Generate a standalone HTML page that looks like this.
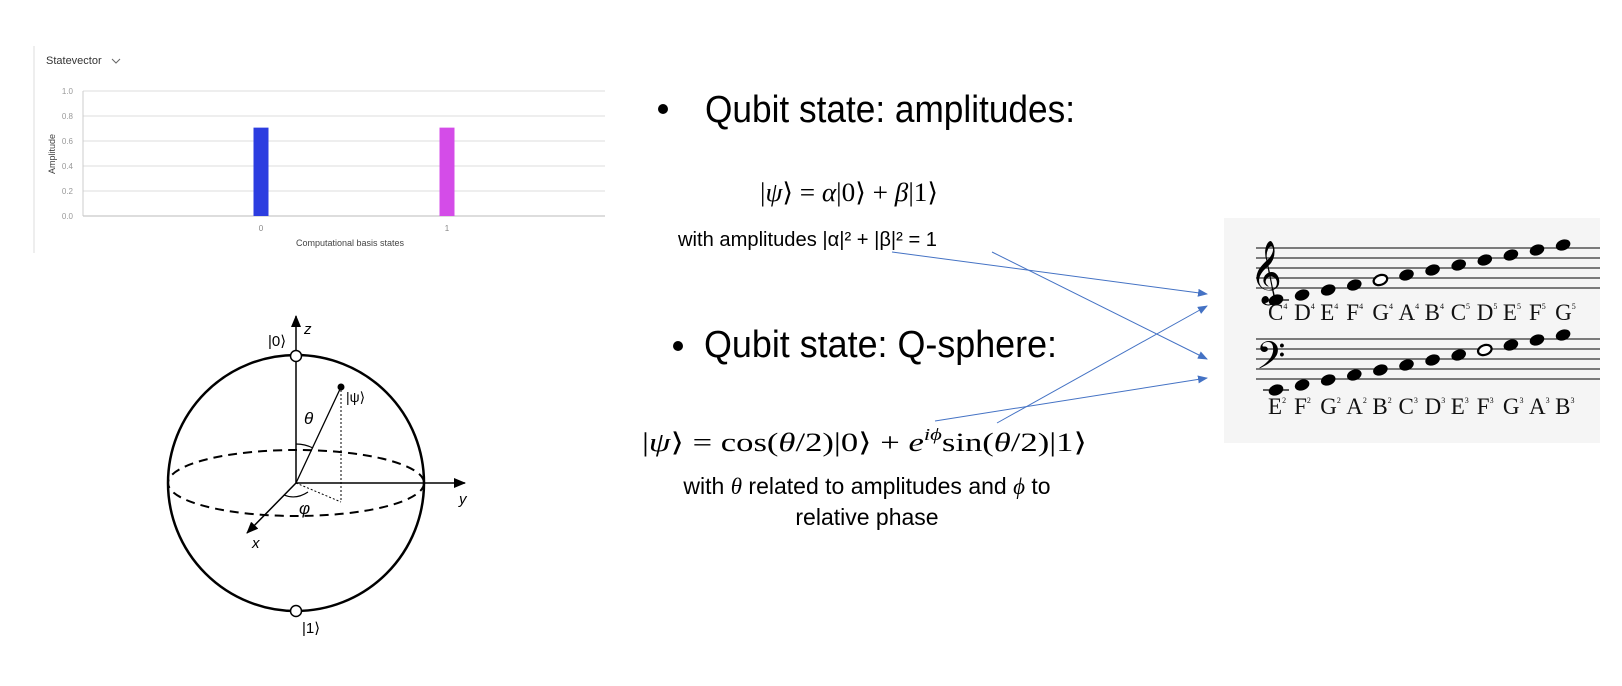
<!DOCTYPE html>
<html><head><meta charset="utf-8"><style>
body{margin:0;background:#fff;}
svg{display:block;}
.sans{font-family:"Liberation Sans",sans-serif;}
.serif{font-family:"Liberation Serif","DejaVu Serif",serif;}
</style></head><body>
<svg id="root" width="1622" height="686" viewBox="0 0 1622 686" xmlns="http://www.w3.org/2000/svg">
<defs>
<marker id="ab" markerWidth="10" markerHeight="8" refX="9" refY="4" orient="auto" markerUnits="userSpaceOnUse"><path d="M0,0 L10,4 L0,8 z" fill="#4472c4"/></marker>
<marker id="ak" markerWidth="12" markerHeight="10" refX="11" refY="5" orient="auto" markerUnits="userSpaceOnUse"><path d="M0,0 L12,5 L0,10 z" fill="#000"/></marker>
</defs>

<g id="chart">
  <line x1="34" y1="46" x2="34" y2="253" stroke="#ddd"/>
  <text x="46" y="64" font-size="11" class="sans" fill="#333">Statevector</text>
  <path d="M112,59 l4,4 l4,-4" fill="none" stroke="#666" stroke-width="1"/>
  <g id="grid"></g>
  <g id="bars"></g>
  <text transform="translate(55,154) rotate(-90)" text-anchor="middle" font-size="9" class="sans" fill="#444">Amplitude</text>
  <text x="350" y="246" text-anchor="middle" font-size="9" class="sans" fill="#444">Computational basis states</text>
</g>

<g fill="none" stroke="#000">
  <circle cx="296" cy="483" r="128" stroke-width="2.5"/>
  <ellipse cx="296" cy="483" rx="128" ry="33" stroke-width="2" stroke-dasharray="9,6"/>
  <line x1="296" y1="483" x2="296" y2="316" stroke-width="1.5" marker-end="url(#ak)"/>
  <line x1="296" y1="483" x2="465" y2="483" stroke-width="1.5" marker-end="url(#ak)"/>
  <line x1="296" y1="483" x2="247" y2="533" stroke-width="1.5" marker-end="url(#ak)"/>
  <line x1="296" y1="483" x2="341" y2="387" stroke-width="1.3"/>
  <circle cx="341" cy="387" r="3" fill="#000"/>
  <line x1="341" y1="390" x2="341" y2="502" stroke-width="1" stroke-dasharray="2,2"/>
  <line x1="296" y1="483" x2="341" y2="502" stroke-width="1" stroke-dasharray="2,2"/>
  <path d="M296,444 A39,39 0 0 1 313,448" stroke-width="1.2"/>
  <path d="M284,495 Q296,500 308,492" stroke-width="1.2"/>
  <circle cx="296" cy="356" r="5.5" fill="#fff" stroke-width="1.5"/>
  <circle cx="296" cy="611" r="5.5" fill="#fff" stroke-width="1.5"/>
</g>
<g class="sans" font-size="15" fill="#000">
  <text x="268" y="346">|0⟩</text>
  <text x="304" y="334" font-style="italic">z</text>
  <text x="346" y="402" font-size="14">|ψ⟩</text>
  <text x="304" y="424" font-style="italic" font-size="17">θ</text>
  <text x="299" y="514" font-style="italic" font-size="17">φ</text>
  <text x="459" y="504" font-style="italic">y</text>
  <text x="252" y="548" font-style="italic">x</text>
  <text x="302" y="633">|1⟩</text>
</g>

<g fill="#000">
  <circle cx="663" cy="109" r="5"/>
  <text x="705" y="122" font-size="38" class="sans" textLength="370" lengthAdjust="spacingAndGlyphs">Qubit state: amplitudes:</text>
  <text x="760" y="201" font-size="26" class="serif" textLength="178" lengthAdjust="spacingAndGlyphs">|<tspan font-style="italic">ψ</tspan>⟩ = <tspan font-style="italic">α</tspan>|0⟩ + <tspan font-style="italic">β</tspan>|1⟩</text>
  <text x="678" y="246" font-size="20" class="sans" textLength="259" lengthAdjust="spacingAndGlyphs">with amplitudes |α|² + |β|² = 1</text>
  <circle cx="678" cy="346" r="5"/>
  <text x="704" y="357" font-size="38" class="sans" textLength="353" lengthAdjust="spacingAndGlyphs">Qubit state: Q-sphere:</text>
  <text x="642" y="451" font-size="26" class="serif" textLength="445" lengthAdjust="spacingAndGlyphs">|<tspan font-style="italic">ψ</tspan>⟩ = cos(<tspan font-style="italic">θ</tspan>/2)|0⟩ + <tspan font-style="italic">e</tspan><tspan font-size="17" dy="-11" font-style="italic">iϕ</tspan><tspan dy="11">sin(</tspan><tspan font-style="italic">θ</tspan>/2)|1⟩</text>
  <text x="867" y="494" font-size="23" class="sans" text-anchor="middle">with <tspan class="serif" font-style="italic">θ</tspan> related to amplitudes and <tspan class="serif" font-style="italic">ϕ</tspan> to</text>
  <text x="867" y="525" font-size="23" class="sans" text-anchor="middle">relative phase</text>
</g>

<rect x="1224" y="218" width="376" height="225" fill="#f5f5f5"/>
<g id="staff"></g>

<g stroke="#4472c4" stroke-width="1" fill="none">
  <line x1="892" y1="252" x2="1207" y2="294" marker-end="url(#ab)"/>
  <line x1="992" y1="252" x2="1207" y2="359" marker-end="url(#ab)"/>
  <line x1="997" y1="423" x2="1207" y2="306" marker-end="url(#ab)"/>
  <line x1="935" y1="421" x2="1207" y2="378" marker-end="url(#ab)"/>
</g>

<script>
const states = ["0", "1"];
const amplitudes = [0.707, 0.707];
const yTicks = [0, 0.2, 0.4, 0.6, 0.8, 1.0];
const barColors = ["#2c3de0", "#d44ce8"];
const trebleNotes = ["C4","D4","E4","F4","G4","A4","B4","C5","D5","E5","F5","G5"];
const bassNotes = ["E2","F2","G2","A2","B2","C3","D3","E3","F3","G3","A3","B3"];

const NS = "http://www.w3.org/2000/svg";
function mk(tag, attrs, parent){const e=document.createElementNS(NS,tag);for(const k in attrs)e.setAttribute(k,attrs[k]);parent.appendChild(e);return e;}
const pl=83, pr=605, pt=91, pb=216;
const yS = v => pb - v*(pb-pt);
const xS = i => 261 + i*186;
const grid=document.getElementById('grid');
yTicks.forEach(t=>{
  const l=mk('line',{x1:pl,x2:pr,y1:yS(t),y2:yS(t),stroke:t===0?'#bbb':'#ddd','stroke-width':1},grid);
  
  
  const tx=mk('text',{x:pl-10,y:yS(t)+3,'text-anchor':'end','font-size':8,fill:'#999','font-family':'Liberation Sans, sans-serif'},grid);
  tx.textContent=t.toFixed(1);
  
  
});
mk('line',{x1:pl,x2:pl,y1:pt,y2:pb,stroke:'#ccc'},grid);
const bars=document.getElementById('bars');
states.forEach((s,i)=>{
  const b=mk('rect',{x:xS(i)-7.5,y:yS(amplitudes[i]),width:15,height:pb-yS(amplitudes[i]),fill:barColors[i]},bars);
  
  
  const t=mk('text',{x:xS(i),y:231,'text-anchor':'middle','font-size':8,fill:'#888','font-family':'Liberation Sans, sans-serif'},bars);
  t.textContent=s;
  
  
});

const st=document.getElementById('staff');
const x0=1276, dx=26.1;
function staff(top, notes, baseY, openIdx, labelY, clef, clefX, clefY, clefSize){
  for(let k=0;k<5;k++){const l=mk('line',{x1:1256,x2:1600,y1:top+k*10,y2:top+k*10,stroke:'#333','stroke-width':1.2},st);
    
    }
  const c=mk('text',{x:clefX,y:clefY,'font-size':clefSize,'font-family':'DejaVu Sans, serif',fill:'#000'},st);
  c.textContent=clef;
  
  
  mk('line',{x1:x0-13,x2:x0+13,y1:baseY,y2:baseY,stroke:'#000','stroke-width':1.2},st);
  notes.forEach((n,i)=>{
    const x=x0+i*dx, y=baseY-i*5;
    const e=mk('ellipse',{cx:x,cy:y,rx:7,ry:4.8,transform:`rotate(-20 ${x} ${y})`,fill:i===openIdx?'#fff':'#000',stroke:'#000','stroke-width':i===openIdx?2.2:1},st);
    
    
    const t=mk('text',{x:x-8,y:labelY,'font-size':23,'font-family':'Liberation Serif, serif',fill:'#111'},st);
    t.textContent=n[0];
    const sp=mk('tspan',{'font-size':8,dy:-11},t);
    sp.textContent=n[1];
    
    
  });
}
staff(248, trebleNotes, 300, 4, 320, "𝄞", 1250, 290, 54);
staff(339, bassNotes, 390, 8, 414, "𝄢", 1256, 376, 46);
</script>
</svg>
</body></html>
